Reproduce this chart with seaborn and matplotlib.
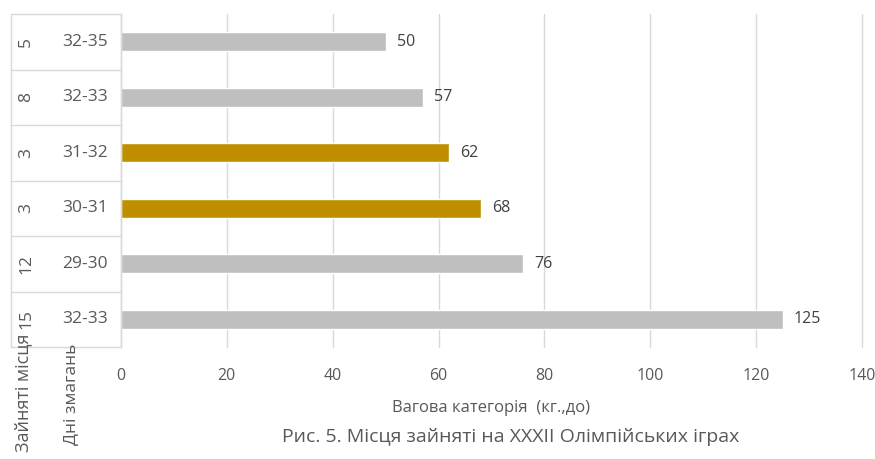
import matplotlib
matplotlib.use("Agg")
import matplotlib.pyplot as plt
import matplotlib.transforms as mtransforms
import seaborn as sns
import pandas as pd
import numpy as np

# ---- data (top to bottom as shown) ----
places = ["5", "8", "3", "3", "12", "15"]
days = ["32-35", "32-33", "31-32", "30-31", "29-30", "32-33"]
weights = [50, 57, 62, 68, 76, 125]
highlight = [False, False, True, True, False, False]

x_ticks = [0, 20, 40, 60, 80, 100, 120, 140]
x_title = "Вагова категорія  (кг.,до)"
caption = "Рис. 5. Місця зайняті на XXXII Олімпійських іграх"
outer_title = "Зайняті місця"
inner_title = "Дні змагань"

GRAY = "#BFBFBF"
GOLD = "#BF8F00"
TXT = "#595959"

sns.set_theme(style="white")
plt.rcParams["font.family"] = ["Open Sans", "DejaVu Sans"]

df = pd.DataFrame({
    "key": [f"{p}|{d}|{i}" for i, (p, d) in enumerate(zip(places, days))],
    "weight": weights,
    "color": [GOLD if h else GRAY for h in highlight],
})

fig = plt.figure(figsize=(8.75, 4.59), dpi=100)
ax = fig.add_axes([121 / 875, 1 - 347 / 459, (862 - 121) / 875, (347 - 14) / 459])

sns.barplot(data=df, y="key", x="weight", hue="key",
            palette=dict(zip(df["key"], df["color"])),
            orient="h", width=0.35, legend=False, ax=ax, saturation=1)

n = len(days)
ax.set_xlim(0, 140)
ax.set_ylim(n - 0.5, -0.5)
ax.set_xticks(x_ticks)
ax.set_xticklabels([str(t) for t in x_ticks], color=TXT, fontsize=11.5)
ax.tick_params(axis="x", length=0, pad=15)
ax.set_yticks([])
ax.set_ylabel("")
ax.set_xlabel("")
ax.grid(axis="x", color="#D9D9D9", linewidth=1)
for gl in ax.get_xgridlines():
    gl.set_clip_on(False)
ax.set_axisbelow(True)
for s in ["top", "right", "bottom"]:
    ax.spines[s].set_visible(False)
ax.spines["left"].set_color("#D9D9D9")
ax.spines["left"].set_linewidth(1)

# data labels
for p in ax.patches:
    w = p.get_width()
    if w is None or not np.isfinite(w) or w == 0:
        continue
    ax.annotate(f"{w:g}", (w, p.get_y() + p.get_height() / 2),
                xytext=(8, 0), textcoords="offset points", ha="left", va="center",
                color="#404040", fontsize=11.5)

# multi-level category table
trans = mtransforms.blended_transform_factory(ax.transAxes, ax.transData)
x_left = (11 - 121) / 741
lc = "#D9D9D9"
for i in range(n + 1):
    yb = i - 0.5
    ax.plot([x_left, 0], [yb, yb], transform=trans, color=lc, lw=1, clip_on=False)
ax.plot([x_left, x_left], [-0.5, n - 0.5], transform=trans, color=lc, lw=1, clip_on=False)
for i, (p, d) in enumerate(zip(places, days)):
    ax.text((85 - 121) / 741, i, d, transform=trans, ha="center", va="center",
            color=TXT, fontsize=12.5)
    ax.text((26 - 121) / 741, i, p, transform=trans, ha="center", va="center",
            rotation=90, color=TXT, fontsize=12.5)

# level titles (rotated)
fig.text(23 / 875, 1 - 334 / 459, outer_title, rotation=90, ha="center", va="top",
         color=TXT, fontsize=13)
fig.text(71 / 875, 1 - 344 / 459, inner_title, rotation=90, ha="center", va="top",
         color=TXT, fontsize=12.5)

fig.text(491 / 875, 1 - 408 / 459, x_title, ha="center", va="center",
         color=TXT, fontsize=12)
fig.text(511 / 875, 1 - 437 / 459, caption, ha="center", va="center",
         color=TXT, fontsize=14)

fig.savefig("out.png", dpi=100)
